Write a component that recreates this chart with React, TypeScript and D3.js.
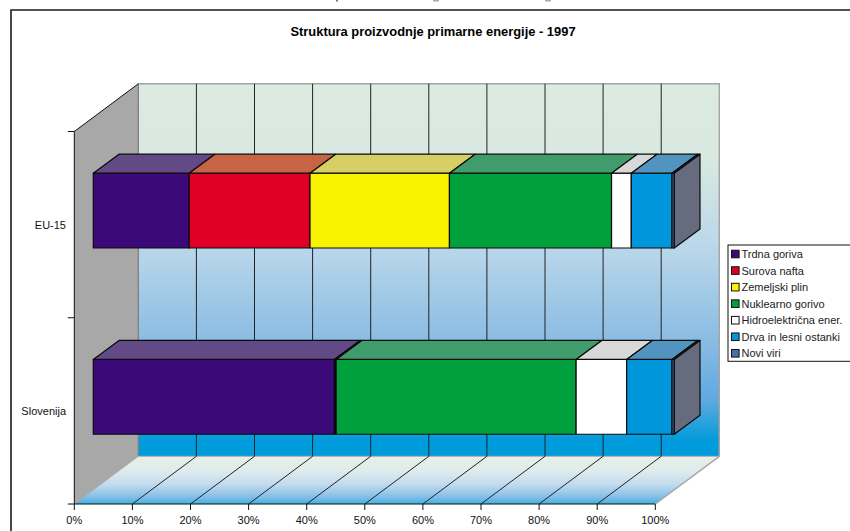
import React from "react";
import * as d3 from "d3";

const title = "Struktura proizvodnje primarne energije - 1997";
const categories = ["EU-15", "Slovenija"];
const seriesNames = ["Trdna goriva", "Surova nafta", "Zemeljski plin", "Nuklearno gorivo", "Hidroelektrična ener.", "Drva in lesni ostanki", "Novi viri"];
const eu15Values = [16.5, 20.8, 24.0, 27.9, 3.4, 7.0, 0.4];
const slovenijaValues = [41.5, 0.1, 0.2, 41.3, 8.7, 7.8, 0.4];
const frontColors = ["#3c0a78", "#e00026", "#f9f300", "#00a03c", "#ffffff", "#0096dc", "#4a6ea6"];
const topColors = ["#624a86", "#c66444", "#d6d064", "#409c6a", "#d8d8d8", "#5294c0", "#5a7aa8"];
const sideColor = "#666c7e";
const xTicks = d3.range(0, 101, 10);

const W = 850, H = 531;
const x = d3.scaleLinear().domain([0, 100]).range([74.3, 655.3]);
const plotTop = 131.5, plotBottom = 504;
const y = d3.scaleBand().domain(categories).range([plotTop, plotBottom]);
const DX = 64, DY = -47.7;
const barDX = 25.7, barDY = -19;
const barInsetX = 19, barInsetY = 14.5;
const barH = 74.8;

const rows: any[] = categories.map((c, i) => {
  const vals = i === 0 ? eu15Values : slovenijaValues;
  const o: any = { category: c };
  seriesNames.forEach((s, j) => (o[s] = vals[j]));
  return o;
});
const stacked = d3.stack().keys(seriesNames)(rows);

const poly = (pts: number[][]) => d3.line()(pts as any) + "Z";

export default function App() {
  const x0 = x(0), x1 = x(100);
  const backTop = plotTop + DY, backBottom = plotBottom + DY;
  return (
    <svg width={W} height={H} viewBox={`0 0 ${W} ${H}`} style={{ position: "absolute", left: 0, top: 0, background: "#fff" }} fontFamily="'Liberation Sans', Arial, sans-serif">
      <defs>
        <linearGradient id="wall" x1="0" y1="0" x2="0" y2="1">
          <stop offset="0" stopColor="#dcebe0" />
          <stop offset="0.2" stopColor="#d9e9e1" />
          <stop offset="0.45" stopColor="#b8d6ea" />
          <stop offset="0.68" stopColor="#8cbde3" />
          <stop offset="0.85" stopColor="#5fa9e0" />
          <stop offset="0.96" stopColor="#009bdc" />
          <stop offset="1" stopColor="#009bdc" />
        </linearGradient>
        <linearGradient id="floor" x1="0" y1="0" x2="0" y2="1">
          <stop offset="0" stopColor="#e6f0e8" />
          <stop offset="0.3" stopColor="#e0ecec" />
          <stop offset="0.6" stopColor="#c0daee" />
          <stop offset="0.85" stopColor="#86bee6" />
          <stop offset="1" stopColor="#3cb2e4" />
        </linearGradient>
      </defs>

      {/* clipped marks from the top edge */}
      {[336, 433, 545].map((v, i) => (
        <rect key={v} x={v} y={0} width={i === 0 ? 2 : 6} height={1.5} fill={i === 0 ? "#777" : "#aaa"} />
      ))}

      {/* outer frame */}
      <path d={`M11,${H}V10H${W}`} fill="none" stroke="#1a1a1a" strokeWidth={1.6} />

      <text x={433} y={36} textAnchor="middle" fontSize={12.9} fontWeight="bold" fill="#000">{title}</text>

      {/* walls */}
      <path d={poly([[x0, plotTop], [x0 + DX, backTop], [x0 + DX, backBottom], [x0, plotBottom]])} fill="#a8a8a8" />
      <rect x={x0 + DX} y={backTop} width={x1 - x0} height={backBottom - backTop} fill="url(#wall)" />
      <path d={poly([[x0, plotBottom], [x0 + DX, backBottom], [x1 + DX, backBottom], [x1, plotBottom]])} fill="url(#floor)" />

      {/* wall edges */}
      <path d={`M${x0 + DX},${backBottom}V${backTop}H${x1 + DX}V${backBottom}L${x1},${plotBottom}`} fill="none" stroke="#a4a4a4" strokeWidth={1.4} />
      <path d={`M${x0 + DX},${backTop}V${backBottom}`} fill="none" stroke="#777" strokeWidth={1} />
      <path d={`M${x0},${plotBottom}L${x0 + DX},${backBottom}H${x1 + DX}`} fill="none" stroke="#a8a8a8" strokeWidth={1} />

      {/* gridlines */}
      {xTicks.slice(1, -1).map((t) => (
        <g key={t} stroke="#222" strokeWidth={1}>
          <path d={`M${x(t) + DX},${backTop}V${backBottom}`} />
          <path d={`M${x(t)},${plotBottom}L${x(t) + DX},${backBottom}`} />
        </g>
      ))}

      {/* axes */}
      <path d={`M${x0 + DX},${backTop}L${x0},${plotTop}V${plotBottom}H${x1}`} fill="none" stroke="#111" strokeWidth={1} />
      {[plotTop, (plotTop + plotBottom) / 2, plotBottom].map((t) => (
        <path key={t} d={`M${x0 - 6.5},${t}H${x0}`} stroke="#111" strokeWidth={1} />
      ))}
      {xTicks.map((t) => (
        <g key={t}>
          <path d={`M${x(t)},${plotBottom}v6`} stroke="#111" strokeWidth={1} />
          <text x={x(t)} y={524} textAnchor="middle" fontSize={11} fill="#111">{t}%</text>
        </g>
      ))}
      {categories.map((c) => (
        <text key={c} x={66} y={(y(c) as number) + y.bandwidth() / 2 + 4} textAnchor="end" fontSize={11} fill="#111">{c}</text>
      ))}

      {/* bars */}
      {categories.map((c, ci) => {
        const top = (y(c) as number) + barInsetY + 27.2;
        const bottom = top + barH;
        return (
          <g key={c} stroke="#0a0a0a" strokeWidth={1.2} strokeLinejoin="round">
            {stacked.map((s, si) => {
              const a = x(s[ci][0]) + barInsetX;
              const b = x(s[ci][1]) + barInsetX;
              return (
                <g key={si}>
                  <rect x={a} y={top} width={b - a} height={barH} fill={frontColors[si]} />
                  <path d={poly([[a, top], [a + barDX, top + barDY], [b + barDX, top + barDY], [b, top]])} fill={topColors[si]} />
                </g>
              );
            })}
            {(() => {
              const e = x(100) + barInsetX;
              return <path d={poly([[e, top], [e + barDX, top + barDY], [e + barDX, bottom + barDY], [e, bottom]])} fill={sideColor} />;
            })()}
          </g>
        );
      })}

      {/* legend */}
      <rect x={728} y={245} width={140} height={116.3} fill="#fff" stroke="#111" strokeWidth={1} />
      {seriesNames.map((s, i) => {
        const cy = 254 + i * 16.55;
        return (
          <g key={s}>
            <rect x={731.5} y={cy - 3.8} width={7.6} height={7.6} fill={frontColors[i]} stroke="#111" strokeWidth={1} />
            <text x={741.5} y={cy + 4} fontSize={11} fill="#222">{s}</text>
          </g>
        );
      })}
    </svg>
  );
}
